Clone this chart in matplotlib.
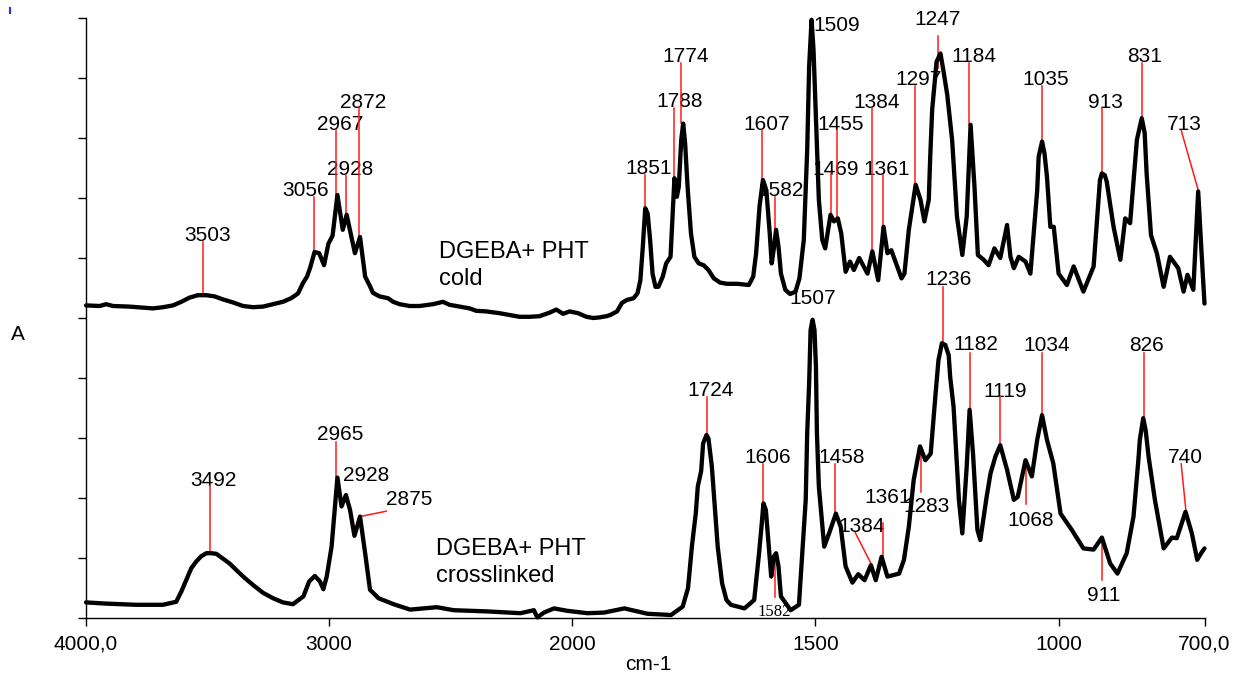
import numpy as np
import matplotlib
matplotlib.use('Agg')
import matplotlib.pyplot as plt
from matplotlib.lines import Line2D

plt.rcParams['font.family'] = ['Liberation Sans', 'DejaVu Sans']

# ---------------- data ----------------
wn_cold = [4000, 3944, 3917, 3889, 3822, 3725, 3683, 3642, 3608, 3574, 3540, 3505, 3471, 3437, 3396,
           3354, 3313, 3272, 3231, 3190, 3156, 3128, 3108, 3091, 3078, 3060, 3041, 3021, 3003, 2986,
           2966, 2944, 2928, 2894, 2873, 2852, 2832, 2820, 2793, 2758, 2737, 2710, 2669, 2628, 2573,
           2532, 2505, 2464, 2422, 2395, 2354, 2299, 2258, 2217, 2176, 2135, 2093, 2066, 2038, 2011,
           1988, 1971, 1957, 1944, 1930, 1922, 1908, 1898, 1888, 1874, 1866, 1860, 1855, 1850, 1845,
           1840, 1835, 1829, 1823, 1814, 1807, 1798, 1794, 1790, 1785, 1781, 1776, 1772, 1768, 1763,
           1756, 1749, 1740, 1730, 1720, 1709, 1696, 1682, 1661, 1637, 1628, 1622, 1615, 1608, 1601,
           1594, 1590, 1585, 1581, 1576, 1571, 1562, 1552, 1541, 1533, 1524, 1517, 1513, 1508, 1504,
           1498, 1493, 1486, 1480, 1475, 1469, 1462, 1454, 1447, 1438, 1429, 1421, 1410, 1393, 1383,
           1371, 1360, 1352, 1344, 1323, 1317, 1308, 1294, 1284, 1276, 1267, 1264, 1260, 1251, 1243,
           1237, 1229, 1219, 1209, 1198, 1189, 1181, 1173, 1166, 1154, 1144, 1132, 1120, 1106, 1099,
           1092, 1082, 1068, 1058, 1044, 1041, 1034, 1029, 1024, 1017, 1010, 1000, 983, 969, 949,
           928, 915, 911, 905, 901, 887, 873, 863, 853, 839, 833, 829, 823, 819, 810,
           798, 784, 771, 754, 743, 735, 723, 713, 706, 700]
abs_cold = [5.21, 5.20, 5.23, 5.20, 5.19, 5.16, 5.18, 5.21, 5.27, 5.34, 5.38, 5.38, 5.36, 5.31, 5.26,
            5.20, 5.18, 5.19, 5.23, 5.27, 5.33, 5.41, 5.58, 5.69, 5.84, 6.10, 6.08, 5.88, 6.24, 6.37,
            7.05, 6.47, 6.72, 6.08, 6.35, 5.69, 5.53, 5.42, 5.36, 5.33, 5.27, 5.23, 5.20, 5.20, 5.23,
            5.27, 5.22, 5.19, 5.16, 5.12, 5.11, 5.08, 5.05, 5.02, 5.02, 5.03, 5.09, 5.14, 5.07, 5.11,
            5.08, 5.02, 5.00, 5.01, 5.03, 5.05, 5.11, 5.25, 5.30, 5.33, 5.41, 5.63, 6.19, 6.83, 6.74,
            6.30, 5.74, 5.52, 5.52, 5.69, 5.91, 6.02, 6.69, 7.33, 7.02, 7.19, 7.97, 8.24, 7.91, 7.19,
            6.41, 6.02, 5.91, 5.88, 5.80, 5.66, 5.59, 5.57, 5.57, 5.55, 5.69, 6.08, 6.86, 7.30, 7.13,
            6.41, 5.91, 6.19, 6.47, 6.19, 5.74, 5.47, 5.40, 5.44, 5.66, 6.30, 7.80, 9.19, 9.97, 9.47,
            8.08, 6.97, 6.30, 6.16, 6.41, 6.72, 6.61, 6.66, 6.41, 5.77, 5.94, 5.80, 6.00, 5.74, 6.11,
            5.63, 6.52, 6.08, 6.13, 5.66, 5.74, 6.47, 7.22, 6.97, 6.61, 6.97, 7.69, 8.47, 9.27, 9.41,
            9.13, 8.72, 7.97, 6.69, 6.05, 6.69, 8.22, 7.19, 6.05, 5.97, 5.88, 6.16, 6.00, 6.55, 6.02,
            5.83, 6.02, 5.94, 5.74, 7.13, 7.69, 7.94, 7.74, 7.36, 6.52, 6.52, 5.74, 5.55, 5.86, 5.44,
            5.86, 7.30, 7.41, 7.38, 7.27, 6.52, 5.97, 6.66, 6.58, 7.97, 8.19, 8.33, 8.08, 7.41, 6.38,
            6.08, 5.52, 6.02, 5.83, 5.44, 5.72, 5.47, 7.11, 6.08, 5.24]

wn_cross = [4000, 3918, 3794, 3684, 3629, 3608, 3588, 3567, 3547, 3526, 3505, 3485, 3464, 3437, 3410,
            3382, 3348, 3313, 3272, 3231, 3190, 3149, 3106, 3082, 3059, 3038, 3024, 3010, 2990, 2966,
            2949, 2931, 2914, 2896, 2873, 2852, 2832, 2797, 2735, 2667, 2557, 2488, 2351, 2213, 2158,
            2144, 2117, 2075, 2021, 1969, 1935, 1893, 1845, 1797, 1773, 1762, 1754, 1746, 1742, 1735,
            1731, 1724, 1720, 1713, 1708, 1701, 1692, 1683, 1674, 1646, 1626, 1616, 1611, 1607, 1602,
            1596, 1591, 1586, 1581, 1576, 1571, 1551, 1534, 1520, 1517, 1513, 1510, 1506, 1502, 1499,
            1497, 1493, 1482, 1472, 1458, 1448, 1438, 1424, 1412, 1399, 1386, 1376, 1364, 1352, 1328,
            1318, 1308, 1298, 1285, 1274, 1263, 1253, 1247, 1240, 1233, 1226, 1223, 1216, 1205, 1198,
            1189, 1183, 1176, 1167, 1161, 1148, 1140, 1130, 1120, 1106, 1092, 1084, 1068, 1055, 1044,
            1034, 1024, 1011, 996, 973, 949, 928, 911, 894, 879, 860, 846, 836, 833, 826,
            821, 815, 802, 784, 767, 757, 739, 726, 715, 707, 700]
abs_cross = [0.26, 0.24, 0.22, 0.22, 0.27, 0.44, 0.63, 0.83, 0.94, 1.03, 1.08, 1.08, 1.07, 0.99, 0.91,
             0.80, 0.67, 0.55, 0.42, 0.33, 0.26, 0.23, 0.36, 0.61, 0.70, 0.61, 0.48, 0.69, 1.19, 2.34,
             1.86, 2.05, 1.80, 1.37, 1.69, 1.08, 0.47, 0.33, 0.23, 0.14, 0.18, 0.13, 0.11, 0.08, 0.13,
             0.01, 0.09, 0.16, 0.12, 0.08, 0.09, 0.16, 0.07, 0.05, 0.19, 0.50, 1.20, 1.75, 2.19, 2.45,
             2.91, 3.05, 2.99, 2.52, 1.97, 1.19, 0.58, 0.30, 0.22, 0.16, 0.30, 1.08, 1.52, 1.91, 1.80,
             1.19, 0.69, 1.02, 1.08, 0.86, 0.36, 0.13, 0.22, 1.97, 3.08, 3.91, 4.80, 4.97, 4.80, 4.19,
             3.08, 2.19, 1.19, 1.41, 1.74, 1.52, 0.86, 0.59, 0.73, 0.63, 0.88, 0.63, 1.02, 0.69, 0.74,
             0.97, 1.52, 2.30, 2.86, 2.63, 2.74, 3.74, 4.30, 4.58, 4.55, 4.38, 4.02, 3.52, 1.97, 1.41,
             2.52, 3.47, 2.74, 1.47, 1.30, 2.02, 2.41, 2.69, 2.88, 2.47, 1.97, 2.02, 2.63, 2.36, 2.97,
             3.38, 2.97, 2.58, 1.74, 1.47, 1.16, 1.14, 1.34, 0.91, 0.74, 1.08, 1.69, 2.63, 2.97, 3.33,
             3.13, 2.69, 1.97, 1.16, 1.34, 1.33, 1.77, 1.41, 0.97, 1.08, 1.16]

x_ticks = [4000, 3000, 2000, 1500, 1000, 700]
x_tick_labels = ['4000,0', '3000', '2000', '1500', '1000', '700,0']

peak_labels_cold = ['3503', '3056', '2967', '2928', '2872', '1851', '1788', '1774', '1607', '1582',
                    '1509', '1469', '1455', '1384', '1361', '1297', '1247', '1184', '1035', '913',
                    '831', '713']
peak_labels_cross = ['3492', '2965', '2928', '2875', '1724', '1606', '1582', '1507', '1458', '1384',
                     '1361', '1283', '1236', '1182', '1119', '1068', '1034', '911', '826', '740']

# ---------------- annotation layout (text x, text y, leader line x0, y0, x1, y1) ----------------
layout_cold = [
    (3498, 6.38, 3519, 6.27, 3519, 5.38),
    (3098, 7.12, 3061, 7.02, 3061, 6.105),
    (2954, 8.23, 2971, 8.13, 2971, 7.05),
    (2913, 7.48, 2931, 7.38, 2931, 6.72),
    (2860, 8.59, 2879, 8.50, 2879, 6.33),
    (1844, 7.49, 1851, 7.38, 1851, 6.83),
    (1779, 8.61, 1790, 8.50, 1790, 7.33),
    (1766, 9.35, 1776, 9.245, 1776, 8.245),
    (1600, 8.23, 1610, 8.13, 1610, 7.30),
    (1572, 7.12, 1583, 7.02, 1583, 6.47),
    (1457, 9.88, 1508.5, 9.97, 1508.5, 9.61),
    (1459, 7.48, 1469, 7.41, 1469, 6.72),
    (1448, 8.23, 1455.6, 8.13, 1455.6, 6.66),
    (1374, 8.59, 1384, 8.50, 1384, 6.105),
    (1354, 7.48, 1361, 7.38, 1361, 6.52),
    (1287, 8.97, 1296, 8.87, 1296, 7.22),
    (1248, 9.97, 1247, 9.70, 1247, 9.16),
    (1175, 9.355, 1185, 9.245, 1185, 8.22),
    (1026, 8.97, 1034, 8.87, 1034, 7.94),
    (904, 8.59, 911, 8.50, 911, 7.41),
    (823, 9.355, 828, 9.245, 828, 8.33),
    (741, 8.23, 748, 8.13, 712, 7.105),
]
layout_cross = [
    (3475, 2.30, 3492, 2.20, 3492, 1.08),
    (2954, 3.05, 2971, 2.94, 2971, 2.345),
    (2847, 2.38, None, None, None, None),
    (2669, 1.97, 2875, 1.69, 2765, 1.78),
    (1715, 3.80, 1724, 3.68, 1724, 3.05),
    (1598, 2.67, 1607, 2.57, 1607, 1.91),
    (1585, 0.10, 1584, 1.08, 1584, 0.355),
    (1505, 5.33, None, None, None, None),
    (1447, 2.67, 1459, 2.57, 1459, 1.745),
    (1406, 1.53, 1418, 1.42, 1384, 0.88),
    (1351, 2.01, 1361, 1.59, 1361, 1.02),
    (1272, 1.855, 1283, 2.855, 1283, 2.105),
    (1227, 5.64, 1237, 5.52, 1237, 4.58),
    (1171, 4.55, 1183, 4.41, 1183, 3.47),
    (1111, 3.78, 1120, 3.68, 1120, 2.88),
    (1057.5, 1.63, 1068, 2.63, 1068, 1.90),
    (1025, 4.545, 1034, 4.42, 1034, 3.38),
    (907, 0.38, 911, 1.345, 911, 0.63),
    (820, 4.545, 825, 4.42, 825, 3.33),
    (739.5, 2.67, 748, 2.57, 738, 1.77),
]


def fwd(x):
    x = np.asarray(x, dtype=float)
    return np.where(x > 2000, 2000 + (x - 2000) / 2.0, x)


def inv(t):
    t = np.asarray(t, dtype=float)
    return np.where(t > 2000, 2000 + (t - 2000) * 2.0, t)


W, H = 1238, 680
fig = plt.figure(figsize=(W / 100, H / 100), dpi=100)
ax = fig.add_axes([86 / W, 1 - 618 / H, (1204.5 - 86) / W, 600 / H])
ax.set_xscale('function', functions=(fwd, inv))
ax.set_xlim(4000, 700)
ax.set_ylim(0, 10)

for wn, ab in ((wn_cold, abs_cold), (wn_cross, abs_cross)):
    ax.plot(wn, ab, color='black', lw=3.1, solid_joinstyle='round', solid_capstyle='round',
            zorder=3, clip_on=False)

red = '#ff1a1a'
for lab, lay in list(zip(peak_labels_cold, layout_cold)) + list(zip(peak_labels_cross, layout_cross)):
    tx, ty, x0, y0, x1, y1 = lay
    if x0 is not None:
        ax.add_line(Line2D([x0, x1], [y0, y1], color=red, lw=1.1, zorder=2, clip_on=False))
    if lab == '1582' and ty < 1:
        ax.text(tx, ty, lab, ha='center', va='center', fontsize=12,
                family=['Liberation Serif', 'DejaVu Serif'], zorder=1, clip_on=False)
    else:
        ax.text(tx, ty, lab, ha='center', va='center', fontsize=15, zorder=1, clip_on=False)

ax.text(2548, 5.995, 'DGEBA+ PHT', ha='left', va='baseline', fontsize=17, zorder=1)
ax.text(2548, 5.55, 'cold', ha='left', va='baseline', fontsize=17, zorder=1)
ax.text(2562, 1.05, 'DGEBA+ PHT', ha='left', va='baseline', fontsize=17, zorder=1)
ax.text(2562, 0.605, 'crosslinked', ha='left', va='baseline', fontsize=17, zorder=1)

ax.spines['top'].set_visible(False)
ax.spines['right'].set_visible(False)
for s in ('left', 'bottom'):
    ax.spines[s].set_linewidth(1.0)
ax.set_xticks(x_ticks)
ax.set_xticklabels(x_tick_labels)
ax.xaxis.set_minor_locator(matplotlib.ticker.NullLocator())
ax.set_yticks(np.arange(0, 11, 1))
ax.set_yticklabels([])
ax.tick_params(axis='both', direction='out', length=6, width=1.0, labelsize=15, pad=6)

fig.text(18 / W, 1 - 335 / H, 'A', ha='center', va='center', fontsize=15)
fig.text(648 / W, 1 - 665 / H, 'cm-1', ha='center', va='center', fontsize=15)
fig.add_artist(Line2D([10 / W, 10 / W], [1 - 8 / H, 1 - 13 / H], color='#2030ff', lw=1.5))

fig.savefig('out.png', dpi=100)
